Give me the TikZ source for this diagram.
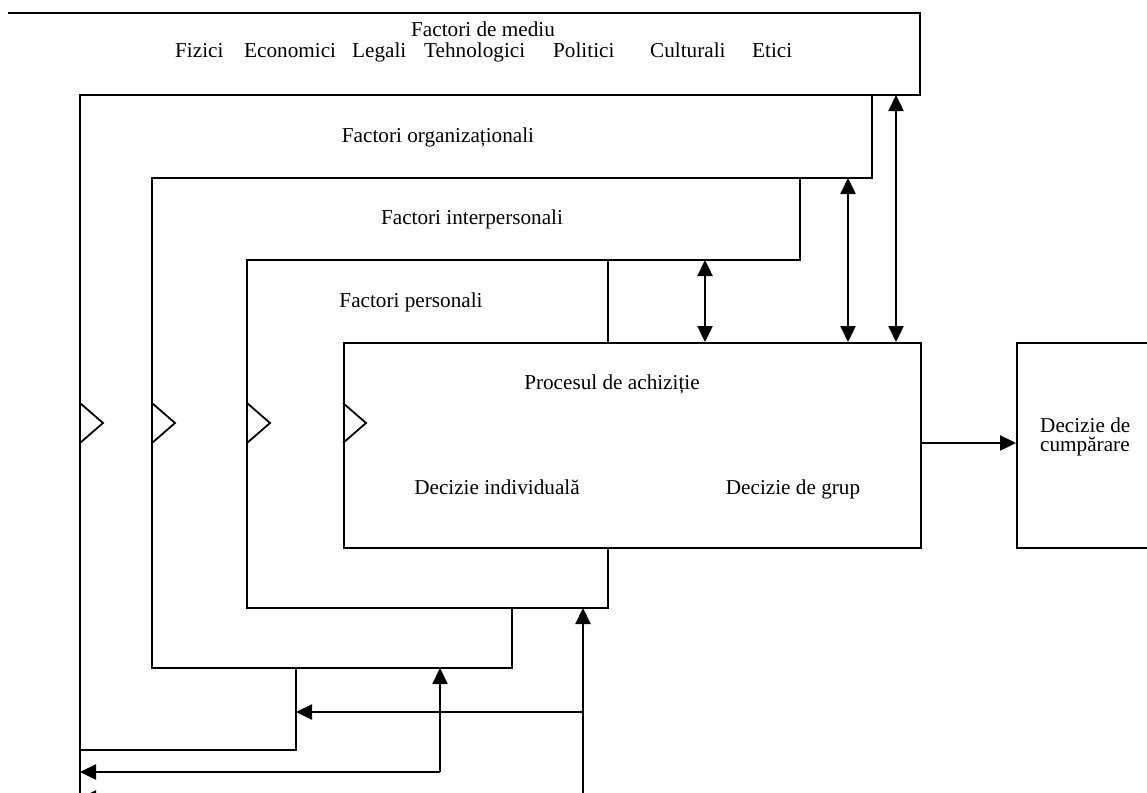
\documentclass[tikz,border=0pt]{standalone}
\usepackage{fontspec}
\setmainfont{Liberation Serif}
\usetikzlibrary{arrows.meta}
\begin{document}
\begin{tikzpicture}[x=1pt,y=-1pt,
  lbl/.style={font=\fontsize{21.2}{19}\selectfont, inner sep=0pt},
  band/.style={line width=1.8pt, line join=miter},
  tip/.style={-{Triangle[length=16pt,width=15pt]}},
  conn/.style={line width=2.4pt, tip},
  dconn/.style={line width=2.4pt, {Triangle[length=16pt,width=15pt]}-{Triangle[length=16pt,width=15pt]}},
  notch/.style={line width=1.8pt}]
\useasboundingbox (0,0) rectangle (1147,792);

% --- band outlines (named corner coordinates)
\coordinate (m0) at (8,13);
\coordinate (m1) at (920,13);
\coordinate (m2) at (920,95);
\coordinate (o0) at (80,95);
\coordinate (o1) at (80,800);
\coordinate (o2) at (872,95);
\coordinate (o3) at (872,178);
\coordinate (i0) at (152,178);
\coordinate (i1) at (152,668);
\coordinate (i2) at (512,668);
\coordinate (i3) at (512,608);
\coordinate (i4) at (800,178);
\coordinate (i5) at (800,260);
\coordinate (p0) at (247,260);
\coordinate (p1) at (247,608);
\coordinate (p2) at (608,608);
\coordinate (p3) at (608,547);
\coordinate (p4) at (608,260);
\coordinate (p5) at (608,342);
\coordinate (q0) at (296,668);
\coordinate (q1) at (296,750);
\coordinate (q2) at (80,750);

\draw[band] (m0) -- (m1) -- (m2) -- (o0) -- (o1);
\draw[band] (o2) -- (o3) -- (i0) -- (i1) -- (i2) -- (i3);
\draw[band] (i4) -- (i5) -- (p0) -- (p1) -- (p2) -- (p3);
\draw[band] (p4) -- (p5);
\draw[band] (q0) -- (q1) -- (q2);

% --- process box and decision box
\node[draw, band, minimum width=577pt, minimum height=205pt, inner sep=0pt, anchor=north west] (proc) at (343,342) {};
\node[draw, band, minimum width=160pt, minimum height=205pt, inner sep=0pt, anchor=north west] (dec) at (1016,342) {};

% --- notches
\foreach \x in {80,152,247,343}
  \draw[notch] (\x,403) -- (\x+23,423) -- (\x,443);

% --- texts
\node[lbl, anchor=base] (tmed) at (483,37) {Factori de mediu};
\node[lbl, anchor=base west] (f1) at (175,58) {Fizici};
\node[lbl, anchor=base west] (f2) at (244,58) {Economici};
\node[lbl, anchor=base west] (f3) at (352,58) {Legali};
\node[lbl, anchor=base west] (f4) at (424,58) {Tehnologici};
\node[lbl, anchor=base west] (f5) at (553,58) {Politici};
\node[lbl, anchor=base west] (f6) at (650,58) {Culturali};
\node[lbl, anchor=base west] (f7) at (752,58) {Etici};
\node[lbl, anchor=base] (torg) at (438,142) {Factori organizaționali};
\node[lbl, anchor=base] (tint) at (472,224) {Factori interpersonali};
\node[lbl, anchor=base] (tper) at (411,307) {Factori personali};
\node[lbl, anchor=base] (tproc) at (612,389) {Procesul de achiziție};
\node[lbl, anchor=base] (tind) at (497,494) {Decizie individuală};
\node[lbl, anchor=base] (tgrp) at (793,494) {Decizie de grup};
\node[lbl, anchor=north west, align=left] (tdec) at (1040,418) {Decizie de\\cumpărare};

% --- vertical double arrows
\coordinate (a1t) at (896,95);
\coordinate (a1b) at (896,342);
\coordinate (a2t) at (848,178);
\coordinate (a2b) at (848,342);
\coordinate (a3t) at (705,260);
\coordinate (a3b) at (705,342);
\draw[dconn] (a1t) -- (a1b);
\draw[dconn] (a2t) -- (a2b);
\draw[dconn] (a3t) -- (a3b);

% --- output arrow
\draw[conn] (proc.east |- 0,443) -- (dec.west |- 0,443);

% --- feedback arrows
\coordinate (b0) at (583,800);
\coordinate (b1) at (583,608);
\coordinate (b2) at (583,712);
\coordinate (b3) at (296,712);
\coordinate (c0) at (440,772);
\coordinate (c1) at (440,668);
\coordinate (c2) at (80,772);
\coordinate (d0) at (300,798);
\coordinate (d1) at (80,798);
\draw[conn] (b0) -- (b1);
\draw[conn] (b2) -- (b3);
\draw[conn] (c0) -- (c1);
\draw[conn] (c0) -- (c2);
\draw[conn] (d0) -- (d1);
\end{tikzpicture}
\end{document}
